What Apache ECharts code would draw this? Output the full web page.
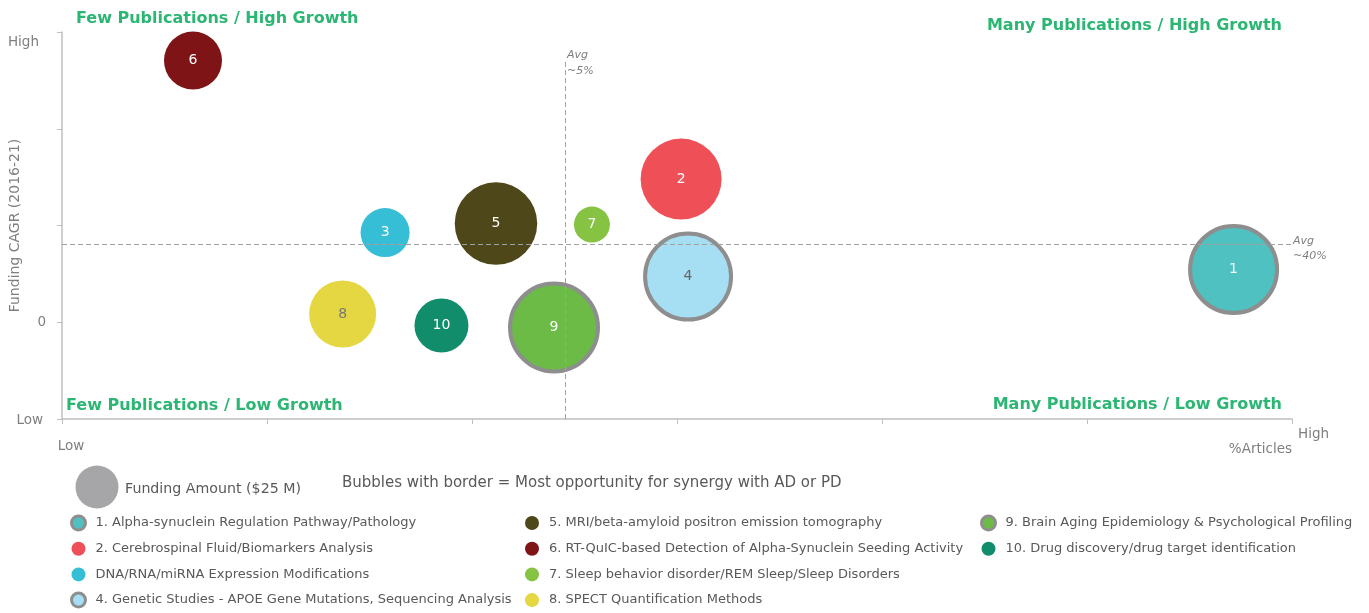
<!DOCTYPE html>
<html><head><meta charset="utf-8">
<script src="https://cdn.jsdelivr.net/npm/echarts@6/dist/echarts.min.js"></script>
<style>html,body{margin:0;padding:0;background:#fff}#c{width:1369px;height:613px}</style>
</head><body><div id="c"></div>
<script>
// ---------- data ----------
const ids = ['1','2','3','4','5','6','7','8','9','10'];
const names = [
  '1. Alpha-synuclein Regulation Pathway/Pathology',
  '2. Cerebrospinal Fluid/Biomarkers Analysis',
  'DNA/RNA/miRNA Expression Modifications',
  '4. Genetic Studies - APOE Gene Mutations, Sequencing Analysis',
  '5. MRI/beta-amyloid positron emission tomography',
  '6. RT-QuIC-based Detection of Alpha-Synuclein Seeding Activity',
  '7. Sleep behavior disorder/REM Sleep/Sleep Disorders',
  '8. SPECT Quantification Methods',
  '9. Brain Aging Epidemiology & Psychological Profiling',
  '10. Drug discovery/drug target identification'
];
const articles = [5.715, 3.02, 1.576, 3.054, 2.117, 0.639, 2.585, 1.369, 2.4, 1.851];
const cagr     = [0.545, 1.48, 0.927, 0.472, 1.02, 2.705, 1.01, 0.085, -0.055, -0.034];
const funding  = [112, 88.7, 32.5, 109.5, 92, 45.5, 17.5, 60.7, 114.4, 39.4]; // $M
const bordered = [true, false, false, true, false, false, false, false, true, false];
const avgArticles = 2.454;
const avgCagr = 0.803;
const xTickLabels = {0: 'Low', 6: 'High'};
const yTickLabels = {'-1': 'Low', '0': '0', '3': 'High'};
const refFunding = 25;

// ---------- styles ----------
const colors = ['#4fc1c1','#ef4f57','#35bed6','#a6dff4','#4e4719','#7e1416','#86c343','#e5d741','#6bbb46','#128d6c'];
const labelColors = ['#fff','#fff','#fff','#666','#fff','#fff','#fff','#777','#fff','#fff'];
const FONT = 'DejaVu Sans';
const GREEN = '#2bb673';
const GREY_TXT = '#7f7f7f';
const BORDER = '#8e8e8e';
const refDiameter = 43;
const sizeOf = f => refDiameter * Math.sqrt(f / refFunding);

const series = ids.map((id, i) => ({
  type: 'scatter',
  name: names[i],
  data: [[articles[i], cagr[i], funding[i]]],
  symbolSize: v => sizeOf(v[2]) - (bordered[i] ? 4 : 0),
  itemStyle: {color: colors[i], opacity: 1, borderColor: BORDER, borderWidth: bordered[i] ? 4 : 0},
  label: {show: true, position: 'inside', formatter: id, color: labelColors[i], fontSize: 14, fontFamily: FONT},
  emphasis: {disabled: true},
  z: 3
}));
series.push({
  type: 'scatter', name: '_avg', data: [], silent: true,
  markLine: {
    silent: true, symbol: 'none', animation: false,
    lineStyle: {color: '#a0a0a0', type: [5, 3], width: 1},
    label: {show: false},
    data: [
      [{coord: [avgArticles, -1]}, {coord: [avgArticles, 2.714]}],
      [{coord: [0, avgCagr]}, {coord: [6, avgCagr]}]
    ]
  }
});

function legendCol(from, to, left) {
  return {
    orient: 'vertical', left: left, top: 514.5, height: 98, padding: 0,
    itemWidth: 24, itemHeight: 14, itemGap: 8.7,
    icon: 'circle', selectedMode: false,
    textStyle: {color: '#595959', fontSize: 13, fontFamily: FONT, lineHeight: 17},
    data: names.slice(from, to).map((n, k) => ({
      name: n,
      itemStyle: bordered[from + k] ? {borderColor: BORDER, borderWidth: 3} : {borderWidth: 0}
    }))
  };
}

const chart = echarts.init(document.getElementById('c'), null, {renderer: 'canvas'});
chart.setOption({
  animation: false,
  backgroundColor: '#fff',
  grid: {left: 62, right: 77, top: 32, bottom: 194, containLabel: false, outerBoundsMode: 'none'},
  xAxis: {
    type: 'value', min: 0, max: 6, interval: 1,
    name: '%Articles', nameLocation: 'end', nameGap: 0, nameMoveOverlap: false,
    nameTextStyle: {color: GREY_TXT, fontSize: 13.5, fontFamily: FONT, align: 'right', verticalAlign: 'top', padding: [23, 0, 0, 0]},
    axisLine: {onZero: false, lineStyle: {color: '#bfbfbf', width: 1.5}},
    axisTick: {show: true, length: 5, lineStyle: {color: '#bfbfbf'}},
    splitLine: {show: false},
    axisLabel: {
      margin: 6, color: GREY_TXT, fontSize: 13.5, fontFamily: FONT,
      formatter: v => xTickLabels[v] ? (v === 0 ? '{lo|' + xTickLabels[v] + '}' : '{hi|' + xTickLabels[v] + '}') : '',
      rich: {
        lo: {color: GREY_TXT, fontSize: 13.5, fontFamily: FONT, padding: [14, 0, 0, 18]},
        hi: {color: GREY_TXT, fontSize: 13.5, fontFamily: FONT, padding: [2, 0, 0, 43]}
      }
    }
  },
  yAxis: {
    type: 'value', min: -1, max: 3, interval: 1,
    name: 'Funding CAGR (2016-21)', nameLocation: 'middle', nameGap: 40, nameMoveOverlap: false,
    nameTextStyle: {color: GREY_TXT, fontSize: 14, fontFamily: FONT},
    axisLine: {show: true, onZero: false, lineStyle: {color: '#bfbfbf', width: 1.5}},
    axisTick: {show: true, length: 5, lineStyle: {color: '#bfbfbf'}},
    splitLine: {show: false},
    axisLabel: {
      margin: 16, color: GREY_TXT, fontSize: 13.5, fontFamily: FONT,
      formatter: v => {
        const t = yTickLabels[String(v)];
        if (!t) return '';
        return v === 3 ? '{hi|' + t + '}' : (v === -1 ? '{lo|' + t + '}' : t);
      },
      rich: {
        hi: {color: GREY_TXT, fontSize: 13.5, fontFamily: FONT, padding: [20, 7, 0, 0]},
        lo: {color: GREY_TXT, fontSize: 13.5, fontFamily: FONT, padding: [2, 3, 0, 0]}
      }
    }
  },
  legend: [legendCol(0, 4, 70), legendCol(4, 8, 525), legendCol(8, 10, 980)],
  series: series
});

// annotations positioned through the chart's own scales
const pTop = chart.convertToPixel({gridIndex: 0}, [avgArticles, 2.714]);
const pEnd = chart.convertToPixel({gridIndex: 0}, [6, avgCagr]);
const qStyle = {fill: GREEN, fontSize: 16, fontWeight: 'bold', fontFamily: FONT};
chart.setOption({
  graphic: [
    {type: 'text', left: 76, top: 11, style: Object.assign({text: 'Few Publications / High Growth'}, qStyle)},
    {type: 'text', right: 87, top: 18, style: Object.assign({text: 'Many Publications / High Growth'}, qStyle)},
    {type: 'text', left: 66, top: 398, style: Object.assign({text: 'Few Publications / Low Growth'}, qStyle)},
    {type: 'text', right: 87, top: 397, style: Object.assign({text: 'Many Publications / Low Growth'}, qStyle)},
    {type: 'text', x: pTop[0] + 2, y: pTop[1] - 13, style: {text: 'Avg\n~5%', fill: GREY_TXT, fontSize: 11, fontStyle: 'italic', fontFamily: FONT, lineHeight: 16}},
    {type: 'text', x: pEnd[0] + 1, y: pEnd[1] - 11, style: {text: 'Avg\n~40%', fill: GREY_TXT, fontSize: 11, fontStyle: 'italic', fontFamily: FONT, lineHeight: 15}},
    {type: 'circle', shape: {cx: 97, cy: 487, r: sizeOf(refFunding) / 2}, style: {fill: '#a6a6a8'}},
    {type: 'text', left: 125, top: 482, style: {text: 'Funding Amount ($25 M)', fill: '#595959', fontSize: 14.2, fontFamily: FONT}},
    {type: 'text', left: 342, top: 476, style: {text: 'Bubbles with border = Most opportunity for synergy with AD or PD', fill: '#595959', fontSize: 15, fontFamily: FONT}}
  ]
});
</script>
</body></html>
